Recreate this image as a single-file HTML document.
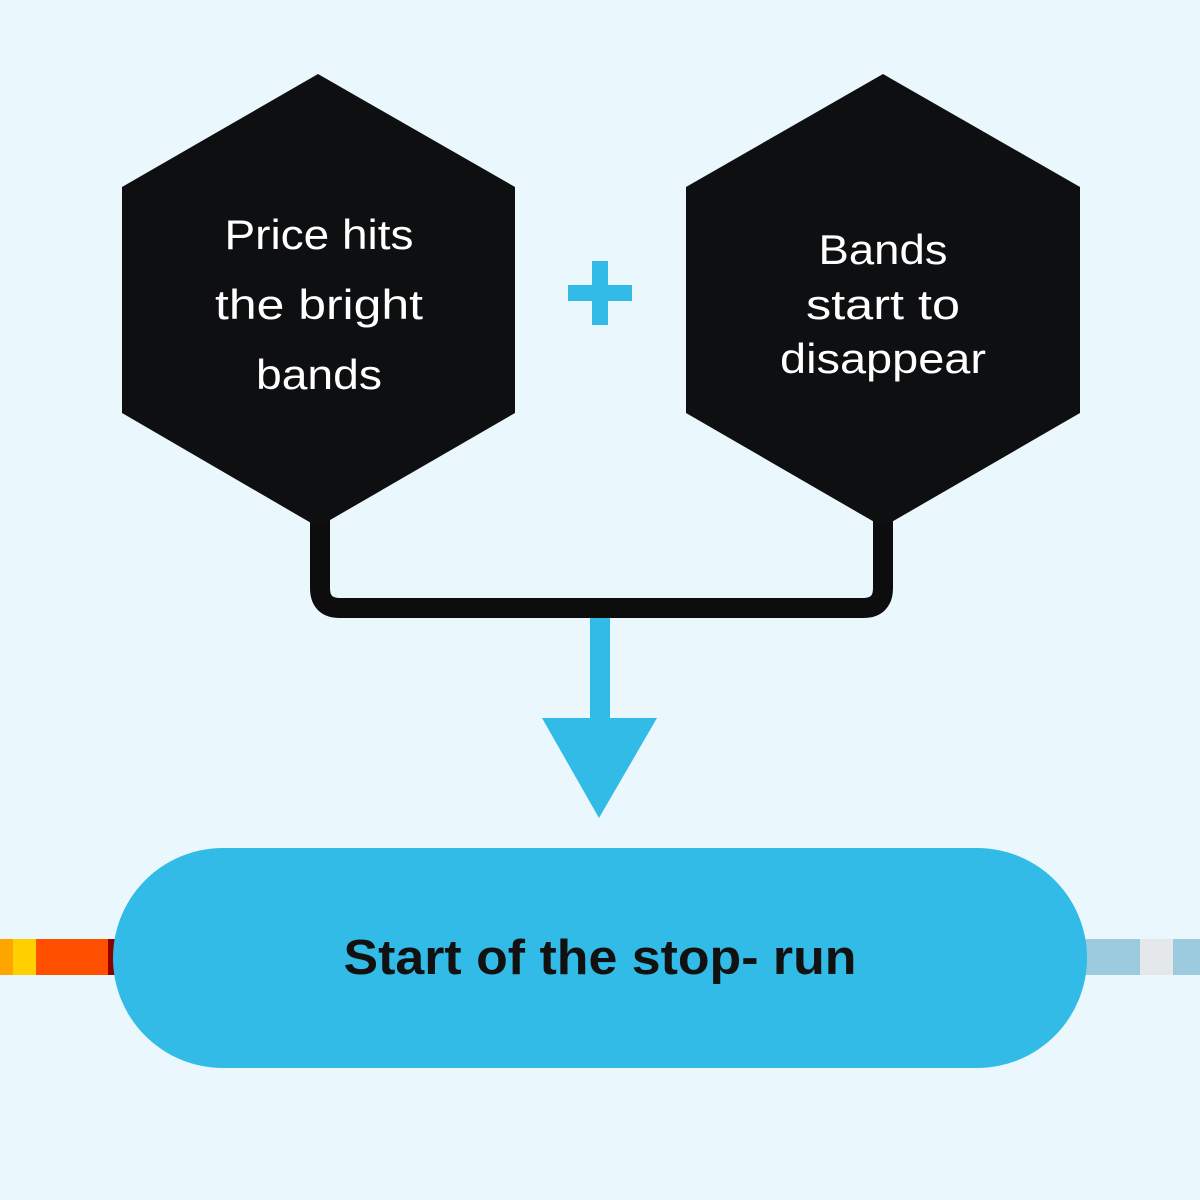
<!DOCTYPE html>
<html><head><meta charset="utf-8"><style>
html,body{margin:0;width:1200px;height:1200px;background:#eaf8fe;overflow:hidden;font-family:"Liberation Sans",sans-serif}
svg{display:block}
</style></head><body>
<svg width="1200" height="1200" viewBox="0 0 1200 1200" xmlns="http://www.w3.org/2000/svg">
<rect x="0" y="939" width="13" height="36" fill="#ffa500"/>
<rect x="13" y="939" width="23" height="36" fill="#ffd000"/>
<rect x="36" y="939" width="72" height="36" fill="#ff5000"/>
<rect x="108" y="939" width="8" height="36" fill="#8b0000"/>
<rect x="1080" y="939" width="60" height="36" fill="#9ccbe0"/>
<rect x="1140" y="939" width="33" height="36" fill="#e4e8ea"/>
<rect x="1173" y="939" width="27" height="36" fill="#9ccbe0"/>
<path d="M320 510 V588 Q320 608 340 608 H863 Q883 608 883 588 V510" fill="none" stroke="#0d0d0d" stroke-width="20"/>
<polygon points="318,74 515,187 515,413 318,527 122,413 122,187" fill="#0e0f11"/>
<polygon points="883,74 1080,187 1080,413 883,527 686,413 686,187" fill="#0e0f11"/>
<rect x="568" y="285" width="64" height="16" fill="#31bbe6"/>
<rect x="592" y="261" width="16" height="64" fill="#31bbe6"/>
<rect x="590" y="618" width="20" height="104" fill="#31bbe6"/>
<polygon points="542,718 657,718 599,818" fill="#31bbe6"/>
<rect x="113" y="848" width="974" height="220" rx="110" fill="#31bbe6"/>
<g fill="#fff" font-size="42" text-anchor="middle" lengthAdjust="spacingAndGlyphs">
<text x="319" y="249" textLength="189" lengthAdjust="spacingAndGlyphs">Price hits</text>
<text x="319" y="319" textLength="208" lengthAdjust="spacingAndGlyphs">the bright</text>
<text x="319" y="389" textLength="126" lengthAdjust="spacingAndGlyphs">bands</text>
<text x="883" y="264" textLength="129" lengthAdjust="spacingAndGlyphs">Bands</text>
<text x="883" y="319" textLength="154" lengthAdjust="spacingAndGlyphs">start to</text>
<text x="883" y="373" textLength="206" lengthAdjust="spacingAndGlyphs">disappear</text>
</g>
<text x="600" y="974" font-size="49" font-weight="bold" text-anchor="middle" fill="#111" textLength="513" lengthAdjust="spacingAndGlyphs">Start of the stop- run</text>
</svg>
</body></html>
